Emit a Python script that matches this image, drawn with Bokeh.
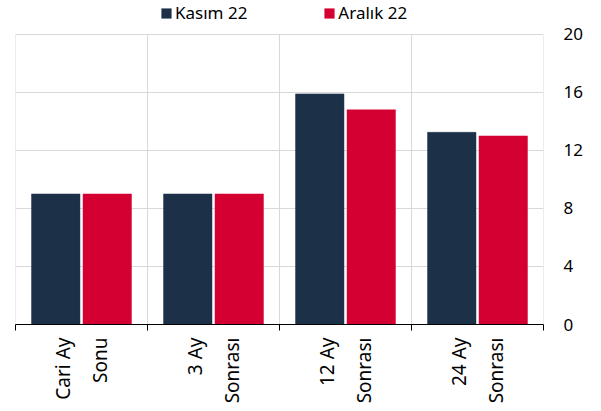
import math
from bokeh.plotting import figure
from bokeh.models import Range1d, FixedTicker, ColumnDataSource, Legend, LegendItem
from bokeh.embed import file_html
from bokeh.resources import INLINE

categories = ["Cari Ay\nSonu", "3 Ay\nSonrası", "12 Ay\nSonrası", "24 Ay\nSonrası"]
series_names = ["Kasım 22", "Aralık 22"]
kasim = [9.0, 9.0, 15.9, 13.25]
aralik = [9.0, 9.0, 14.8, 13.0]
y_ticks = [0, 4, 8, 12, 16, 20]

FONT = "Noto Sans"
DARK = "#1c3048"
RED = "#d50032"
GRID = "#d9d9d9"

centers = list(range(1, len(categories) + 1))
bounds = [c - 0.5 for c in centers] + [centers[-1] + 0.5]
y_max = y_ticks[-1]

src = ColumnDataSource(dict(
    xk=[c - 0.195 for c in centers],
    xa=[c + 0.195 for c in centers],
    kasim=kasim, aralik=aralik))

p = figure(frame_width=528, frame_height=324, output_backend="svg",
           toolbar_location=None,
           x_range=Range1d(bounds[0], bounds[-1]), y_range=Range1d(0, y_max + 2.34),
           y_axis_location="right",
           min_border_left=15, min_border_right=0, min_border_top=0,
           min_border_bottom=0, outline_line_color=None)

# vertical separators between categories (only up to top tick)
p.segment(x0=bounds, x1=bounds, y0=[0] * len(bounds), y1=[y_max] * len(bounds),
          line_color=GRID, line_width=1)

r1 = p.vbar(x="xk", top="kasim", width=0.367, source=src, fill_color=DARK,
            line_color=DARK, line_width=0.5)
r2 = p.vbar(x="xa", top="aralik", width=0.367, source=src, fill_color=RED,
            line_color=RED, line_width=0.5)

xt = FixedTicker(ticks=centers, minor_ticks=bounds)
yt = FixedTicker(ticks=y_ticks)

xa = p.xaxis[0]
xa.ticker = xt
xa.major_label_overrides = {c: lab for c, lab in zip(centers, categories)}
xa.major_tick_line_color = None
xa.major_tick_out = 0
xa.major_tick_in = 0
xa.minor_tick_out = 6
xa.minor_tick_in = 0
xa.minor_tick_line_color = "black"
xa.axis_line_color = "black"
xa.major_label_orientation = math.pi / 2
xa.major_label_text_font = FONT
xa.major_label_text_font_size = "19px"
xa.major_label_text_line_height = 1.4
xa.major_label_text_color = "black"
xa.major_label_standoff = 7

ya = p.yaxis[0]
ya.ticker = yt
ya.axis_line_color = None
ya.major_tick_line_color = None
ya.minor_tick_line_color = None
ya.major_tick_out = 0
ya.major_tick_in = 0
ya.major_label_standoff = 20
ya.major_label_text_font = FONT
ya.major_label_text_font_size = "17px"
ya.major_label_text_color = "black"

p.xgrid.visible = False
p.ygrid.ticker = yt
p.ygrid.grid_line_color = GRID

lg = Legend(items=[LegendItem(label=series_names[0], renderers=[r1]),
                   LegendItem(label=series_names[1], renderers=[r2])],
            orientation="horizontal", location=(145, 300),
            glyph_width=12, glyph_height=12, label_standoff=3, spacing=76,
            label_height=14,
            label_text_font=FONT, label_text_font_size="17px",
            label_text_color="black", border_line_color=None,
            background_fill_alpha=0, padding=0, margin=0)
p.add_layout(lg)

open("out.html", "w").write(file_html(p, INLINE))
